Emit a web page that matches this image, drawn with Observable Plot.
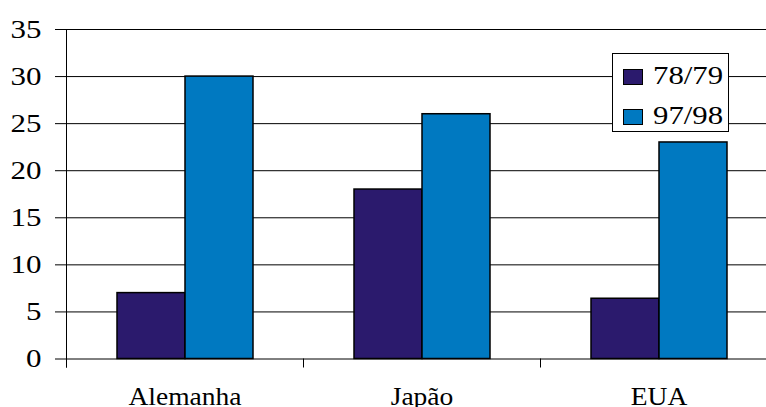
<!DOCTYPE html>
<html>
<head>
<meta charset="utf-8">
<script src="https://cdn.jsdelivr.net/npm/d3@7"></script>
<script src="https://cdn.jsdelivr.net/npm/@observablehq/plot@0.6"></script>
<style>
  html, body { margin: 0; padding: 0; background: white; overflow: hidden; }
  #wrap { position: relative; width: 766px; height: 407px; overflow: hidden; }
  #legend { position: absolute; left: 611.5px; top: 52.5px; width: 117.5px; height: 79.5px;
    box-sizing: border-box; border: 1px solid #000; background: white;
    font-family: "Liberation Serif", "Times New Roman", serif; font-size: 25px; line-height: 25px; color: #000; }
  .sw { position: absolute; left: 10.5px; width: 20px; height: 16px; box-sizing: border-box; border: 1.5px solid #000; }
  .lt { position: absolute; left: 40.5px; display: inline-block; white-space: nowrap; transform: scaleX(1.23); transform-origin: left center; }
</style>
</head>
<body>
<div id="wrap"></div>
<script>
const categories = ["Alemanha", "Japão", "EUA"];
const series = ["78/79", "97/98"];
const values7879 = [7, 18, 6.4];
const values9798 = [30, 26, 23];
const yTicks = [0, 5, 10, 15, 20, 25, 30, 35];
const colors = ["#2b1a6d", "#0079c1"];

const rows = [];
categories.forEach((c, i) => {
  rows.push({category: c, series: series[0], value: values7879[i]});
  rows.push({category: c, series: series[1], value: values9798[i]});
});

const chart = Plot.plot({
  width: 766,
  height: 407,
  marginTop: 29,
  marginBottom: 48.5,
  marginLeft: 66,
  marginRight: 0,
  style: {fontFamily: "'Liberation Serif', 'Times New Roman', serif", fontSize: "25px", background: "white", color: "black", overflow: "hidden"},
  fx: {domain: categories, range: [66, 777], padding: 0, label: null},
  x: {domain: series, paddingInner: 0, paddingOuter: 0.74, axis: null},
  y: {domain: [0, 35], label: null},
  color: {domain: series, range: colors},
  marks: [
    Plot.gridY(yTicks, {stroke: "#000", strokeOpacity: 1, strokeWidth: 1}),
    Plot.barY(rows, {fx: "category", x: "series", y: "value", fill: "series", stroke: "#000", strokeWidth: 1.5}),
    Plot.frame({anchor: "left", facetAnchor: "left", insetBottom: -8, stroke: "#000", strokeWidth: 1}),
    Plot.frame({anchor: "left", insetTop: 329.5, insetBottom: -8, stroke: "#000", strokeWidth: 1}),
    Plot.axisY(yTicks, {tickSize: 11, tickPadding: 14, fontSize: 25, label: null, stroke: "#000"}),
    Plot.axisFx({anchor: "bottom", tickSize: 0, tickPadding: 28, fontSize: 25, label: null})
  ]
});

const wrap = document.getElementById("wrap");
wrap.appendChild(chart);

// horizontally stretch texts like the reference's widened type (wrap each text in a scaling group)
const SVGNS = "http://www.w3.org/2000/svg";
Array.from(chart.querySelectorAll("text")).forEach(t => {
  const s = t.closest('[aria-label^="fx-axis"]') ? 1.1 : 1.24;
  const anchor = getComputedStyle(t).textAnchor;
  const r = t.getBoundingClientRect();
  const parent = t.parentNode;
  const ctm = parent.getScreenCTM();
  if (!ctm) return;
  const ax = anchor === "end" ? r.right : anchor === "middle" ? (r.left + r.right) / 2 : r.left;
  const p = new DOMPoint(ax, r.top).matrixTransform(ctm.inverse());
  const g = document.createElementNS(SVGNS, "g");
  g.setAttribute("transform", `translate(${p.x},0) scale(${s},1) translate(${-p.x},0)`);
  parent.insertBefore(g, t);
  g.appendChild(t);
});

const legend = document.createElement("div");
legend.id = "legend";
const swTops = [15, 55], txTops = [9.5, 49.5];
series.forEach((s, i) => {
  const sw = document.createElement("div");
  sw.className = "sw";
  sw.style.top = swTops[i] + "px";
  sw.style.background = colors[i];
  legend.appendChild(sw);
  const tx = document.createElement("span");
  tx.className = "lt";
  tx.style.top = txTops[i] + "px";
  tx.textContent = s;
  legend.appendChild(tx);
});
wrap.appendChild(legend);
</script>
</body>
</html>
